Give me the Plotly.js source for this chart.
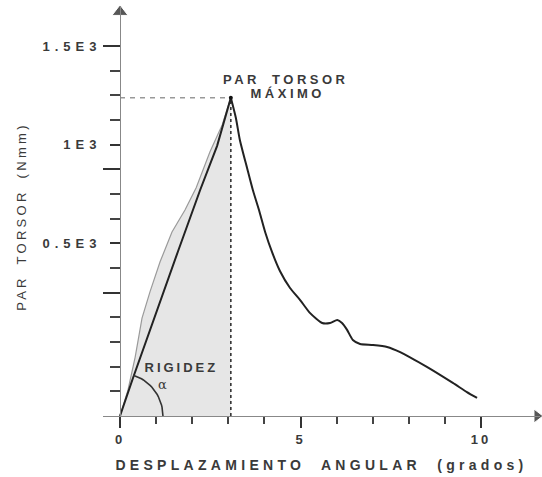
<!DOCTYPE html>
<html>
<head>
<meta charset="utf-8">
<script src="https://cdn.plot.ly/plotly-3.0.1.min.js"></script>
<style>
html,body{margin:0;padding:0;background:#fff;}
#chart{width:542px;height:477px;}
</style>
</head>
<body>
<div id="chart"></div>
<script>
// ---- data (x: grados, y: Nmm as drawn on the schematic scale) ----
const peakX = 3.07;
const peakY = 1290;

// real (grey) loading curve up to the maximum
const curveX = [0, 0.22, 0.42, 0.53, 0.61, 0.83, 1.11, 1.44, 1.80, 2.11, 2.49, 2.83, 3.07];
const curveY = [0, 105, 239, 340, 397, 503, 625, 746, 835, 925, 1070, 1180, 1290];

// stiffness line (black) from origin to the maximum
const rigidX = [0, 0.36, 1.61, 2.22, 2.69, 3.07];
const rigidY = [0, 154, 669, 916, 1095, 1290];

// post-peak (descending) curve
const descX = [3.07, 3.21, 3.32, 3.52, 3.68, 3.85, 4.02, 4.21, 4.43, 4.71, 4.99, 5.26, 5.60, 5.82, 6.02, 6.15, 6.29, 6.45, 6.65, 7.01, 7.40, 7.76, 8.50, 9.22, 9.61, 9.89];
const descY = [1290, 1208, 1119, 1005, 916, 835, 746, 665, 588, 519, 470, 418, 377, 377, 389, 377, 349, 308, 292, 288, 280, 259, 199, 134, 97, 73];

// axis ticks and labels
const xTickVals = [0, 5, 10];
const xTickText = ['0', '5', '10'];
const xMinorTicks = [1, 2, 3, 4, 6, 7, 8, 9];
const yTickVals = [700, 1100, 1500];
const yTickText = ['0.5E3', '1E3', '1.5E3'];
const yMinorTicks = [100, 200, 300, 400, 500, 600, 800, 900, 1000, 1200, 1300, 1400];
const yLongTicks = [500, 1000, 1500];

const xRange = [-0.471, 11.634];
const yRange = [-36.5, 1662];
const xArrowAt = 11.55;
const yArrowAt = 1638;

// angle arc (decoration for alpha)
const arcRx = 1.19, arcRy = 174, arcAngle = 72;
const arcX = [], arcY = [];
for (let a = 0; a <= arcAngle; a += 3) {
  const t = a * Math.PI / 180;
  arcX.push(arcRx * Math.cos(t));
  arcY.push(arcRy * Math.sin(t));
}

const FONT = 'Liberation Sans, Arial, sans-serif';
const TXT = '#3a3a3a';

const traces = [
  { // grey fill under the real curve
    x: curveX, y: curveY, type: 'scatter', mode: 'lines',
    fill: 'tozeroy', fillcolor: '#e6e6e6',
    line: {color: '#9a9a9a', width: 1.2}, hoverinfo: 'skip'
  },
  { // vertical dashed at maximum
    x: [peakX, peakX], y: [0, peakY], type: 'scatter', mode: 'lines',
    line: {color: '#333', width: 1.6, dash: '3px,3px'}, hoverinfo: 'skip'
  },
  { // horizontal dashed at maximum
    x: [0, peakX], y: [peakY, peakY], type: 'scatter', mode: 'lines',
    line: {color: '#999', width: 1.5, dash: '5px,5px'}, hoverinfo: 'skip'
  },
  { // stiffness line
    x: rigidX, y: rigidY, type: 'scatter', mode: 'lines',
    line: {color: '#222', width: 2}, hoverinfo: 'skip'
  },
  { // descending curve
    x: descX, y: descY, type: 'scatter', mode: 'lines',
    line: {color: '#222', width: 2, shape: 'spline', smoothing: 0.6}, hoverinfo: 'skip'
  },
  { // alpha arc
    x: arcX, y: arcY, type: 'scatter', mode: 'lines',
    line: {color: '#333', width: 1.6}, hoverinfo: 'skip'
  },
  { // peak dot
    x: [peakX], y: [peakY], type: 'scatter', mode: 'markers',
    marker: {color: '#111', size: 4}, hoverinfo: 'skip'
  },
  { // axis arrows
    x: [0, xArrowAt], y: [yArrowAt, 0], type: 'scatter', mode: 'markers',
    marker: {symbol: ['triangle-up', 'triangle-right'], color: '#111', size: [14, 12]},
    cliponaxis: false, hoverinfo: 'skip'
  },
  { // carrier for the long-tick overlay axis
    x: [null], y: [null], yaxis: 'y2', type: 'scatter', mode: 'lines', hoverinfo: 'skip'
  }
];

const layout = {
  width: 542, height: 477,
  margin: {l: 103, r: 2, t: 6, b: 52},
  paper_bgcolor: '#fff', plot_bgcolor: '#fff',
  showlegend: false,
  font: {family: FONT, color: TXT},
  xaxis: {
    range: xRange, anchor: 'free', position: 0.0215,
    showline: true, linecolor: '#888', linewidth: 1.5,
    showgrid: false, zeroline: false,
    ticks: 'outside', tickvals: xTickVals, ticktext: xTickText,
    ticklen: 11, tickwidth: 2, tickcolor: '#333',
    minor: {ticks: 'outside', tickvals: xMinorTicks, ticklen: 7, tickwidth: 2, tickcolor: '#444', showgrid: false},
    tickfont: {family: FONT, size: 13, color: TXT, weight: 'bold'},
    title: {text: 'DESPLAZAMIENTO ANGULAR (grados)', font: {family: FONT, size: 14, color: TXT, weight: 'bold'}, standoff: 14},
    automargin: false, fixedrange: true
  },
  yaxis: {
    range: yRange, anchor: 'free', position: 0.0389,
    showline: true, linecolor: '#888', linewidth: 1.5,
    showgrid: false, zeroline: false,
    ticks: 'outside', tickvals: yTickVals, ticktext: yTickText,
    ticklen: 10, tickwidth: 2, tickcolor: '#333', ticklabelstandoff: 6,
    minor: {ticks: 'outside', tickvals: yMinorTicks, ticklen: 10, tickwidth: 2, tickcolor: '#444', showgrid: false},
    tickfont: {family: FONT, size: 13, color: TXT, weight: 'bold'},
    title: {text: ''},
    automargin: false, fixedrange: true
  },
  yaxis2: {
    range: yRange, overlaying: 'y', anchor: 'free', position: 0.0389, side: 'left',
    showline: false, showgrid: false, zeroline: false,
    ticks: 'outside', tickvals: yLongTicks, ticklen: 17, tickwidth: 2, tickcolor: '#333',
    showticklabels: false, fixedrange: true
  },
  annotations: [
    {x: peakX, y: peakY, xref: 'x', yref: 'y', text: 'PAR TORSOR', showarrow: false,
     xanchor: 'center', yanchor: 'middle', xshift: 55, yshift: 18,
     font: {family: FONT, size: 13, color: TXT, weight: 'bold'}},
    {x: peakX, y: peakY, xref: 'x', yref: 'y', text: 'MÁXIMO', showarrow: false,
     xanchor: 'center', yanchor: 'middle', xshift: 57, yshift: 4,
     font: {family: FONT, size: 13, color: TXT, weight: 'bold'}},
    {x: 1.69, y: 195, xref: 'x', yref: 'y', text: 'RIGIDEZ', showarrow: false,
     font: {family: FONT, size: 13, color: TXT, weight: 'bold'}},
    {x: 1.19, y: 126, xref: 'x', yref: 'y', text: 'α', showarrow: false,
     font: {family: 'DejaVu Serif, serif', size: 13, color: TXT}},
    {x: -0.186, y: 0.497, xref: 'paper', yref: 'paper', text: 'PAR TORSOR (Nmm)', showarrow: false,
     textangle: -90, xanchor: 'center', yanchor: 'middle',
     font: {family: FONT, size: 13, color: TXT}}
  ]
};

Plotly.newPlot('chart', traces, layout, {staticPlot: true, displayModeBar: false}).then(function (gd) {
  const setLS = (el, ls, ws) => {
    if (!el) return;
    el.style.letterSpacing = ls;
    if (ws) el.style.wordSpacing = ws;
  };
  gd.querySelectorAll('.xtitle').forEach(el => setLS(el, '4.3px', '8px'));
  gd.querySelectorAll('.xtick text').forEach(el => setLS(el, '3px'));
  gd.querySelectorAll('.ytick text').forEach(el => setLS(el, '5px'));
  const ann = gd.querySelectorAll('.annotation-text');
  const spacing = [['3.5px', '5px'], ['3.5px'], ['3px'], ['0px'], ['3.3px', '4px']];
  ann.forEach((el, i) => setLS(el, (spacing[i] || ['3px'])[0], (spacing[i] || [])[1]));
});
</script>
</body>
</html>
